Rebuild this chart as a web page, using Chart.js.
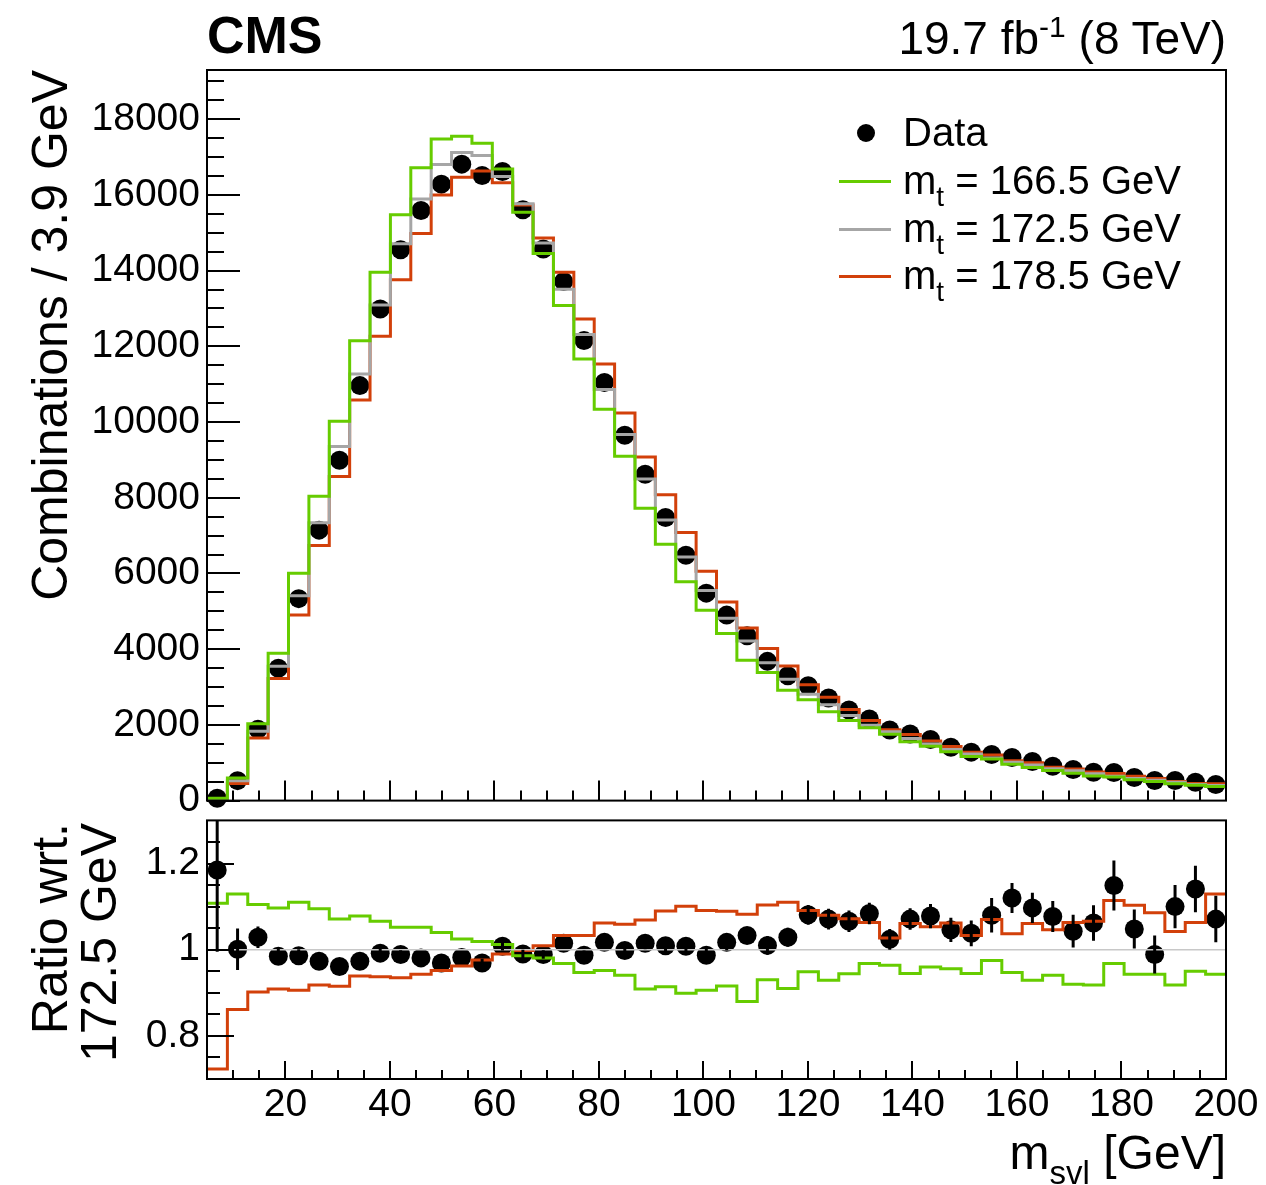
<!DOCTYPE html>
<html lang="en">
<head>
  <meta charset="UTF-8">
  <title>m_svl distribution</title>
  <script src="https://cdn.jsdelivr.net/npm/chart.js"></script>
  <style>
    body { margin: 0; background: white; font-family: "Liberation Sans", Arial, Helvetica, sans-serif; color: #000; }
    #wrap { position: relative; width: 1266px; height: 1185px; overflow: hidden; }
    canvas { position: absolute; left: 0; }
    .txt { position: absolute; white-space: nowrap; line-height: 1; }
    .rot { position: absolute; white-space: nowrap; transform: rotate(-90deg); text-align: right; }
    .leg-line { position: absolute; height: 3px; width: 52px; left: 839px; }
  </style>
</head>
<body>
<div id="wrap">
  <canvas id="mainChart" width="1266" height="831" style="top:0"></canvas>
  <canvas id="ratioChart" width="1266" height="395" style="top:790px"></canvas>

  <div class="txt" style="left:207px; top:9px; font-size:52px; font-weight:bold;">CMS</div>
  <div class="txt" style="right:40px; top:15px; font-size:46px;">19.7 fb<span style="position:relative; top:-17px; font-size:30px;">-1</span> (8 TeV)</div>

  <!-- legend -->
  <div style="position:absolute; left:857px; top:124px; width:18px; height:18px; border-radius:50%; background:#000;"></div>
  <div class="leg-line" style="top:180px; background:#66cc00;"></div>
  <div class="leg-line" style="top:228px; background:#a6a6a6;"></div>
  <div class="leg-line" style="top:275px; background:#d2400a;"></div>
  <div class="txt" style="left:903px; top:112px; font-size:40px;">Data</div>
  <div class="txt" style="left:903px; top:160px; font-size:40px;">m<span style="position:relative; top:12px; font-size:28px;">t</span> = 166.5 GeV</div>
  <div class="txt" style="left:903px; top:208px; font-size:40px;">m<span style="position:relative; top:12px; font-size:28px;">t</span> = 172.5 GeV</div>
  <div class="txt" style="left:903px; top:255px; font-size:40px;">m<span style="position:relative; top:12px; font-size:28px;">t</span> = 178.5 GeV</div>

  <!-- axis titles -->
  <div class="rot" style="left:-250px; top:345px; width:600px; height:50px; line-height:50px; font-size:50px;">Combinations / 3.9 GeV</div>
  <div class="rot" style="left:-124px; top:973px; width:400px; height:100px; line-height:49px; font-size:50px;">Ratio wrt.<br>172.5 GeV</div>
  <div class="txt" style="right:40px; top:1129px; font-size:48px;">m<span style="position:relative; top:15px; font-size:33px;">svl</span> [GeV]</div>
</div>

<script>
  // binning: 50 bins of 3.9 GeV from 5 to 200
  const binLow = 5;
  const binWidth = 3.9;

  const dataCounts = [63, 527, 1887, 3496, 5335, 7145, 8992, 10963, 12987, 14550,
    15588, 16285, 16813, 16512, 16618, 15607, 14570, 13712, 12156, 11047,
    9649, 8620, 7478, 6483, 5480, 4900, 4354, 3678, 3298, 3034,
    2710, 2393, 2156, 1865, 1760, 1615, 1410, 1280, 1218, 1138,
    1032, 908, 820, 750, 740, 610, 530, 530, 485, 425];

  const mt166 = [59, 594, 2027, 3893, 6006, 8041, 10021, 12146, 13956, 15477,
    16716, 17478, 17549, 17364, 16684, 15544, 14452, 13077, 11663, 10341,
    9098, 7720, 6774, 5782, 5030, 4413, 3709, 3387, 2917, 2664,
    2350, 2119, 1925, 1755, 1553, 1438, 1289, 1165, 1100, 962,
    874, 793, 723, 648, 623, 549, 505, 442, 404, 374];

  const mt172 = [53, 526, 1834, 3549, 5411, 7343, 9357, 11267, 13092, 14712,
    15890, 16806, 17121, 17040, 16486, 15765, 14732, 13509, 12316, 10862,
    9668, 8493, 7411, 6432, 5552, 4818, 4215, 3642, 3205, 2807,
    2530, 2245, 1989, 1821, 1643, 1498, 1348, 1233, 1128, 1016,
    941, 843, 786, 706, 644, 582, 536, 482, 425, 397];

  const mt178 = [38, 453, 1654, 3226, 4902, 6741, 8562, 10580, 12267, 13756,
    14984, 15999, 16470, 16631, 16321, 15733, 14865, 13955, 12722, 11535,
    10238, 9079, 8078, 7082, 6057, 5247, 4561, 4021, 3558, 3062,
    2732, 2407, 2114, 1870, 1743, 1577, 1432, 1274, 1207, 1054,
    998, 882, 836, 753, 717, 642, 582, 502, 452, 448];

  // ratio panel (wrt. 172.5 GeV)
  const dataRatio = [1.185, 1.001, 1.029, 0.985, 0.986, 0.973, 0.961, 0.973, 0.992, 0.989,
    0.981, 0.969, 0.982, 0.969, 1.008, 0.990, 0.989, 1.015, 0.987, 1.017,
    0.998, 1.015, 1.009, 1.008, 0.987, 1.017, 1.033, 1.010, 1.029, 1.081,
    1.071, 1.066, 1.084, 1.024, 1.071, 1.078, 1.046, 1.038, 1.080, 1.120,
    1.097, 1.077, 1.043, 1.062, 1.149, 1.048, 0.989, 1.100, 1.141, 1.071];

  const dataRatioErr = [0.19, 0.048, 0.025, 0.018, 0.015, 0.013, 0.012, 0.011, 0.010, 0.010,
    0.010, 0.010, 0.010, 0.010, 0.010, 0.010, 0.010, 0.011, 0.011, 0.012,
    0.013, 0.014, 0.015, 0.016, 0.017, 0.018, 0.019, 0.021, 0.022, 0.023,
    0.024, 0.025, 0.025, 0.024, 0.025, 0.028, 0.028, 0.030, 0.040, 0.035,
    0.035, 0.036, 0.038, 0.041, 0.058, 0.045, 0.044, 0.050, 0.054, 0.054];

  const ratio166 = [1.108, 1.129, 1.105, 1.097, 1.110, 1.095, 1.071, 1.078, 1.066, 1.052,
    1.052, 1.040, 1.025, 1.019, 1.012, 0.986, 0.981, 0.968, 0.947, 0.952,
    0.941, 0.909, 0.914, 0.899, 0.906, 0.916, 0.880, 0.930, 0.910, 0.949,
    0.929, 0.944, 0.968, 0.964, 0.945, 0.960, 0.956, 0.945, 0.975, 0.947,
    0.929, 0.941, 0.920, 0.918, 0.968, 0.943, 0.943, 0.918, 0.950, 0.943];

  const ratio178 = [0.723, 0.861, 0.902, 0.909, 0.906, 0.918, 0.915, 0.939, 0.937, 0.935,
    0.943, 0.952, 0.962, 0.976, 0.990, 0.998, 1.009, 1.033, 1.033, 1.062,
    1.059, 1.069, 1.090, 1.101, 1.091, 1.089, 1.082, 1.104, 1.110, 1.091,
    1.080, 1.072, 1.063, 1.027, 1.061, 1.053, 1.062, 1.033, 1.070, 1.037,
    1.061, 1.046, 1.063, 1.066, 1.114, 1.103, 1.086, 1.042, 1.063, 1.129];

  const yTicksMain = [0, 2000, 4000, 6000, 8000, 10000, 12000, 14000, 16000, 18000];
  const yTicksRatio = [0.8, 1, 1.2];
  const xTicks = [20, 40, 60, 80, 100, 120, 140, 160, 180, 200];

  const GREEN = '#66cc00', GRAY = '#a6a6a6', RED = '#d2400a';
  const FONT = '"Liberation Sans", Arial, Helvetica, sans-serif';

  const nBins = dataCounts.length;
  const edges = [];
  for (let k = 0; k <= nBins; k++) edges.push(binLow + k * binWidth);
  const centers = edges.slice(0, nBins).map(e => e + binWidth / 2);

  function stepPoints(vals) {
    return edges.map((x, k) => ({ x: x, y: vals[Math.min(k, vals.length - 1)] }));
  }
  function pointData(vals) {
    return centers.map((x, i) => ({ x: x, y: vals[i] }));
  }
  function stepSet(vals, color) {
    return { data: stepPoints(vals), showLine: true, stepped: 'before', borderColor: color,
             borderWidth: 3, pointRadius: 0, fill: false };
  }

  // ROOT-like frame with inward ticks
  const rootAxes = {
    id: 'rootAxes',
    afterDraw(chart, args, o) {
      if (!o || !o.yMajor) return;
      const ctx = chart.ctx, a = chart.chartArea, x = chart.scales.x, y = chart.scales.y;
      ctx.save();
      ctx.strokeStyle = '#000';
      ctx.lineWidth = 2;
      ctx.beginPath();
      const yTick = (v, len) => { const p = Math.round(y.getPixelForValue(v)); ctx.moveTo(a.left, p); ctx.lineTo(a.left + len, p); };
      const xTick = (v, len) => { const p = Math.round(x.getPixelForValue(v)); ctx.moveTo(p, a.bottom); ctx.lineTo(p, a.bottom - len); };
      o.yMajor.forEach(v => yTick(v, o.yMajorLen));
      o.yMinor.forEach(v => yTick(v, o.yMinorLen));
      o.xMajor.forEach(v => xTick(v, o.xMajorLen));
      o.xMinor.forEach(v => xTick(v, o.xMinorLen));
      ctx.stroke();
      ctx.strokeRect(a.left, a.top, a.right - a.left, a.bottom - a.top);
      ctx.restore();
    }
  };

  const errorBars = {
    id: 'errorBars',
    afterDatasetsDraw(chart, args, o) {
      if (!o || !o.values) return;
      const ctx = chart.ctx, a = chart.chartArea, x = chart.scales.x, y = chart.scales.y;
      ctx.save();
      ctx.beginPath();
      ctx.rect(a.left, a.top, a.right - a.left, a.bottom - a.top);
      ctx.clip();
      ctx.strokeStyle = '#000';
      ctx.lineWidth = 3;
      ctx.beginPath();
      o.values.forEach((v, i) => {
        const px = x.getPixelForValue(centers[i]);
        ctx.moveTo(px, y.getPixelForValue(v - o.errors[i]));
        ctx.lineTo(px, y.getPixelForValue(v + o.errors[i]));
      });
      ctx.stroke();
      ctx.restore();
    }
  };

  Chart.register(rootAxes, errorBars);

  // tick positions for the frame
  const xMinor = [];
  for (let v = 10; v < 200; v += 5) if (v % 20 !== 0) xMinor.push(v);
  const yMinorMain = [];
  for (let v = 500; v < 19300; v += 500) if (v % 2000 !== 0) yMinorMain.push(v);
  const yMinorRatio = [0.75, 0.85, 0.9, 0.95, 1.05, 1.1, 1.15, 1.25];

  const tickFont = { family: FONT, size: 39 };

  new Chart(document.getElementById('mainChart'), {
    type: 'scatter',
    data: {
      datasets: [
        stepSet(mt166, GREEN),
        stepSet(mt172, GRAY),
        stepSet(mt178, RED),
        { data: pointData(dataCounts), pointRadius: 9.5, pointBackgroundColor: '#000',
          pointBorderWidth: 0, showLine: false, clip: false }
      ]
    },
    options: {
      responsive: false,
      animation: false,
      layout: { padding: { left: 0, right: 40, top: 70, bottom: 30 } },
      plugins: {
        legend: { display: false },
        tooltip: { enabled: false },
        rootAxes: { yMajor: yTicksMain, yMinor: yMinorMain, yMajorLen: 33, yMinorLen: 17,
                    xMajor: xTicks, xMinor: xMinor, xMajorLen: 20, xMinorLen: 10 }
      },
      scales: {
        x: { type: 'linear', min: 5, max: 200, display: false },
        y: {
          type: 'linear', min: 0, max: 19300,
          afterFit: s => { s.width = 207; },
          afterBuildTicks: s => { s.ticks = yTicksMain.map(v => ({ value: v })); },
          grid: { display: false, drawTicks: false },
          border: { display: false },
          ticks: { font: tickFont, color: '#000', padding: 7, callback: v => String(v) }
        }
      }
    }
  });

  new Chart(document.getElementById('ratioChart'), {
    type: 'scatter',
    data: {
      datasets: [
        { data: [{ x: 5, y: 1 }, { x: 200, y: 1 }], showLine: true, borderColor: '#c8c8c8',
          borderWidth: 1.5, pointRadius: 0 },
        stepSet(ratio166, GREEN),
        stepSet(ratio178, RED),
        { data: pointData(dataRatio), pointRadius: 9.5, pointBackgroundColor: '#000',
          pointBorderWidth: 0, showLine: false, clip: false }
      ]
    },
    options: {
      responsive: false,
      animation: false,
      layout: { padding: { left: 0, right: 40, top: 28, bottom: 0 } },
      plugins: {
        legend: { display: false },
        tooltip: { enabled: false },
        errorBars: { values: dataRatio, errors: dataRatioErr },
        rootAxes: { yMajor: yTicksRatio, yMinor: yMinorRatio, yMajorLen: 27, yMinorLen: 13,
                    xMajor: xTicks, xMinor: xMinor, xMajorLen: 18, xMinorLen: 9 }
      },
      scales: {
        x: {
          type: 'linear', min: 5, max: 200,
          afterFit: s => { s.height = 106; },
          afterBuildTicks: s => { s.ticks = xTicks.map(v => ({ value: v })); },
          grid: { display: false, drawTicks: false },
          border: { display: false },
          ticks: { font: tickFont, color: '#000', padding: 3, maxRotation: 0, autoSkip: false,
                   callback: v => String(v) }
        },
        y: {
          type: 'linear', min: 0.7, max: 1.3,
          afterFit: s => { s.width = 207; },
          afterBuildTicks: s => { s.ticks = yTicksRatio.map(v => ({ value: v })); },
          grid: { display: false, drawTicks: false },
          border: { display: false },
          ticks: { font: tickFont, color: '#000', padding: 7, callback: v => String(v) }
        }
      }
    }
  });
</script>
</body>
</html>
